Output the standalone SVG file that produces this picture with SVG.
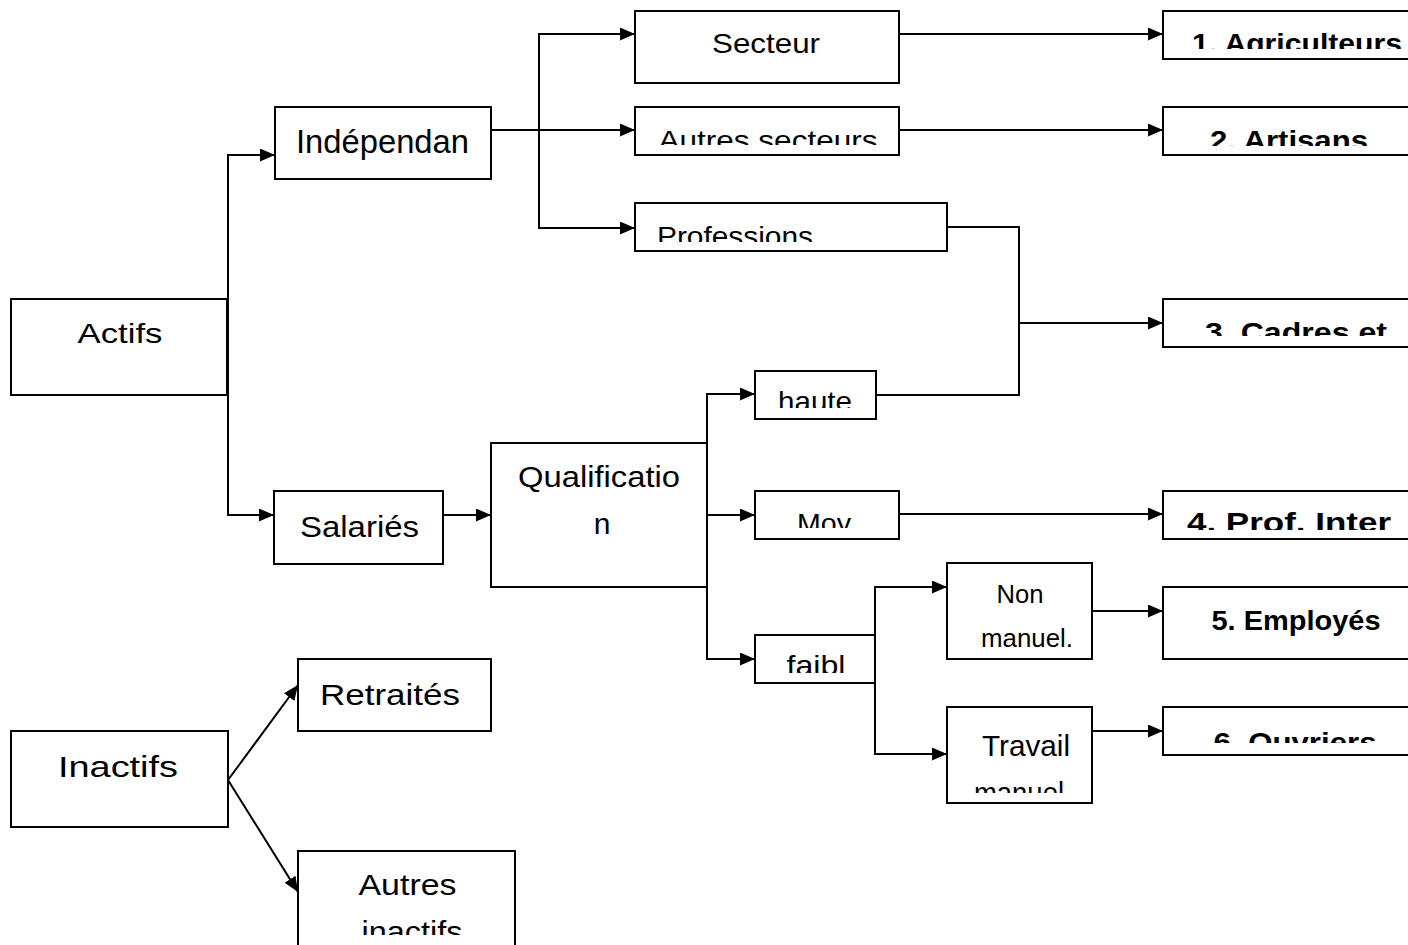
<svg xmlns="http://www.w3.org/2000/svg" width="1408" height="945" viewBox="0 0 1408 945">
<defs>
<style>
.box{fill:#fff;stroke:#000;stroke-width:2}
.c{fill:none;stroke:#000;stroke-width:2;marker-end:url(#ah)}
.l{fill:none;stroke:#000;stroke-width:2}
text{font-family:"Liberation Sans","DejaVu Sans",sans-serif;fill:#000;text-anchor:middle}
.r28{font-size:28px}
.r30{font-size:30px}
.r25{font-size:25px}
.b{font-size:28px;font-weight:bold}
</style>
<marker id="ah" viewBox="0 0 15 13" refX="15" refY="6.5" markerWidth="15" markerHeight="13" markerUnits="userSpaceOnUse" orient="auto">
<path d="M0,0 L15,6.5 L0,13 z" fill="#000"/>
</marker>
<clipPath id="cAS"><rect x="635" y="107" width="264" height="38"/></clipPath>
<clipPath id="cPR"><rect x="635" y="203" width="312" height="39"/></clipPath>
<clipPath id="cHA"><rect x="755" y="371" width="121" height="37"/></clipPath>
<clipPath id="cMO"><rect x="755" y="491" width="144" height="37"/></clipPath>
<clipPath id="cFA"><rect x="755" y="635" width="120" height="38"/></clipPath>
<clipPath id="cTM"><rect x="947" y="707" width="145" height="86"/></clipPath>
<clipPath id="cAI"><rect x="298" y="851" width="217" height="84"/></clipPath>
<clipPath id="c1"><rect x="1163" y="11" width="260" height="38"/></clipPath>
<clipPath id="c2"><rect x="1163" y="107" width="260" height="39"/></clipPath>
<clipPath id="c3"><rect x="1163" y="299" width="260" height="37"/></clipPath>
<clipPath id="c4"><rect x="1163" y="491" width="260" height="39"/></clipPath>
<clipPath id="c6"><rect x="1163" y="707" width="260" height="36"/></clipPath>
</defs>
<rect width="1408" height="945" fill="#fff"/>
<g id="connectors">
<path class="c" d="M228,347 V155 H275"/>
<path class="c" d="M228,347 V515 H274"/>
<path class="c" d="M491,130 H635"/>
<path class="c" d="M539,130 V34 H635"/>
<path class="c" d="M539,130 V228 H635"/>
<path class="c" d="M899,34 H1163"/>
<path class="c" d="M899,130 H1163"/>
<path class="l" d="M947,227 H1019 V395 H876"/>
<path class="c" d="M1019,323 H1163"/>
<path class="c" d="M443,515 H491"/>
<path class="c" d="M707,515 V394 H755"/>
<path class="c" d="M707,515 H755"/>
<path class="c" d="M707,515 V659 H755"/>
<path class="c" d="M899,514 H1163"/>
<path class="c" d="M875,659 V587 H947"/>
<path class="c" d="M875,659 V754 H947"/>
<path class="c" d="M1092,611 H1163"/>
<path class="c" d="M1092,731 H1163"/>
<path class="c" d="M228,780 L298,685"/>
<path class="c" d="M228,780 L298,892"/>
</g>
<g id="actifs"><rect class="box" x="11" y="299" width="216" height="96"/><text class="r28" x="120" y="343" textLength="85" lengthAdjust="spacingAndGlyphs">Actifs</text></g>
<g id="independan"><rect class="box" x="275" y="107" width="216" height="72"/><text x="382.5" y="153" style="font-size:33px" textLength="173" lengthAdjust="spacingAndGlyphs">Indépendan</text></g>
<g id="salaries"><rect class="box" x="274" y="491" width="169" height="73"/><text class="r30" x="359.5" y="537" textLength="119" lengthAdjust="spacingAndGlyphs">Salariés</text></g>
<g id="qualification"><rect class="box" x="491" y="443" width="216" height="144"/><text class="r30" x="599" y="487" textLength="162" lengthAdjust="spacingAndGlyphs">Qualificatio</text><text class="r30" x="602" y="534">n</text></g>
<g id="secteur"><rect class="box" x="635" y="11" width="264" height="72"/><text class="r28" x="766" y="53" textLength="108" lengthAdjust="spacingAndGlyphs">Secteur</text></g>
<g id="autres-secteurs"><rect class="box" x="635" y="107" width="264" height="48"/><text class="r28" x="768" y="150" clip-path="url(#cAS)" textLength="219" lengthAdjust="spacingAndGlyphs">Autres secteurs</text></g>
<g id="professions"><rect class="box" x="635" y="203" width="312" height="48"/><text class="r28" x="657" y="246" style="text-anchor:start" clip-path="url(#cPR)" textLength="156" lengthAdjust="spacingAndGlyphs">Professions</text></g>
<g id="haute"><rect class="box" x="755" y="371" width="121" height="48"/><text class="r28" x="815" y="411" clip-path="url(#cHA)" textLength="74" lengthAdjust="spacingAndGlyphs">haute</text></g>
<g id="moy"><rect class="box" x="755" y="491" width="144" height="48"/><text class="r28" x="824" y="533" clip-path="url(#cMO)" textLength="54" lengthAdjust="spacingAndGlyphs">Moy</text></g>
<g id="faibl"><rect class="box" x="755" y="635" width="120" height="48"/><text class="r28" x="816" y="675" clip-path="url(#cFA)" textLength="59" lengthAdjust="spacingAndGlyphs">faibl</text></g>
<g id="non-manuel"><rect class="box" x="947" y="563" width="145" height="96"/><text class="r25" x="1020" y="603" textLength="47" lengthAdjust="spacingAndGlyphs">Non</text><text class="r25" x="1027" y="647" textLength="92" lengthAdjust="spacingAndGlyphs">manuel.</text></g>
<g id="travail-manuel"><rect class="box" x="947" y="707" width="145" height="96"/><text class="r30" x="1026" y="756" textLength="88" lengthAdjust="spacingAndGlyphs">Travail</text><text class="r30" x="1019" y="803" clip-path="url(#cTM)" textLength="90" lengthAdjust="spacingAndGlyphs">manuel</text></g>
<g id="agriculteurs"><rect class="box" x="1163" y="11" width="260" height="48"/><text class="b" x="1297" y="53" clip-path="url(#c1)" textLength="210" lengthAdjust="spacingAndGlyphs">1. Agriculteurs</text></g>
<g id="artisans"><rect class="box" x="1163" y="107" width="260" height="48"/><text class="b" x="1289" y="150" clip-path="url(#c2)" textLength="158" lengthAdjust="spacingAndGlyphs">2. Artisans</text></g>
<g id="cadres"><rect class="box" x="1163" y="299" width="260" height="48"/><text class="b" x="1296" y="342" clip-path="url(#c3)" textLength="182" lengthAdjust="spacingAndGlyphs">3. Cadres et</text></g>
<g id="prof-inter"><rect class="box" x="1163" y="491" width="260" height="48"/><text class="b" x="1289" y="532" clip-path="url(#c4)" textLength="204" lengthAdjust="spacingAndGlyphs">4. Prof. Inter</text></g>
<g id="employes"><rect class="box" x="1163" y="587" width="260" height="72"/><text class="b" x="1296" y="630" textLength="169" lengthAdjust="spacingAndGlyphs">5. Employés</text></g>
<g id="ouvriers"><rect class="box" x="1163" y="707" width="260" height="48"/><text class="b" x="1295" y="752" clip-path="url(#c6)" textLength="163" lengthAdjust="spacingAndGlyphs">6. Ouvriers</text></g>
<g id="inactifs"><rect class="box" x="11" y="731" width="217" height="96"/><text class="r30" x="118" y="777" textLength="120" lengthAdjust="spacingAndGlyphs">Inactifs</text></g>
<g id="retraites"><rect class="box" x="298" y="659" width="193" height="72"/><text class="r30" x="390" y="705" textLength="140" lengthAdjust="spacingAndGlyphs">Retraités</text></g>
<g id="autres-inactifs"><rect class="box" x="298" y="851" width="217" height="110"/><text class="r30" x="407.5" y="895" textLength="98" lengthAdjust="spacingAndGlyphs">Autres</text><text class="r30" x="412" y="942" clip-path="url(#cAI)" textLength="101" lengthAdjust="spacingAndGlyphs">inactifs</text></g>
</svg>
